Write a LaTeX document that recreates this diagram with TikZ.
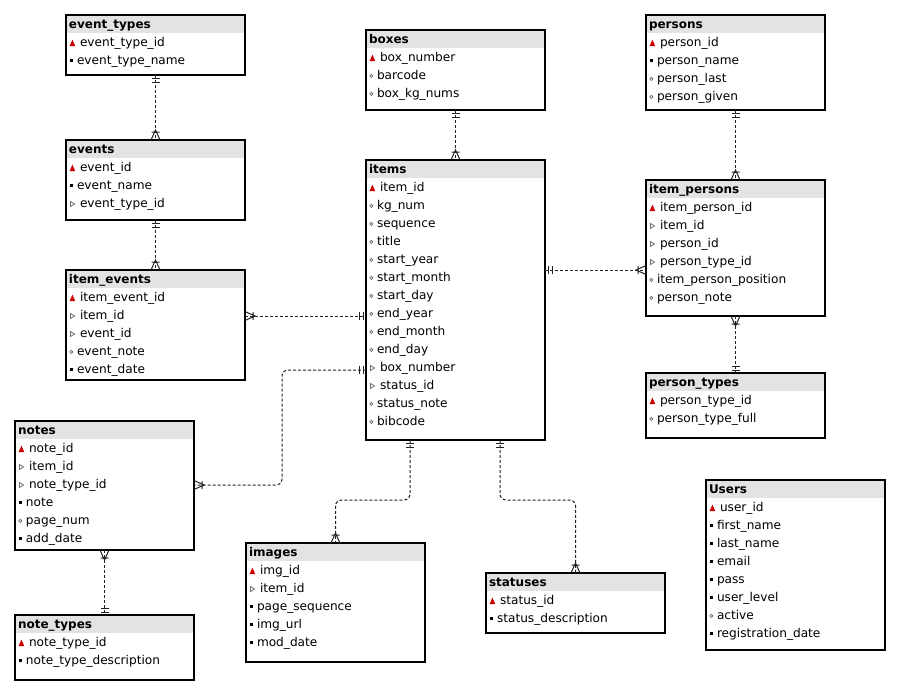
\documentclass[tikz,border=0pt]{standalone}
\usepackage{fontspec}
\setmainfont{DejaVu Sans}
\usetikzlibrary{calc}
\definecolor{hdrgray}{HTML}{E3E3E3}
\definecolor{pkred}{HTML}{CC0000}
\definecolor{mkgray}{HTML}{707070}
\definecolor{lnk}{HTML}{222222}

\tikzset{
  tblbody/.style={inner sep=0pt, outer sep=0pt, anchor=north west, minimum width=179*0.75pt},
  rowtxt/.style={anchor=base west, inner sep=0pt, outer sep=0pt},
  hdrtxt/.style={anchor=base west, inner sep=0pt, outer sep=0pt, font=\fontsize{9}{11}\selectfont\bfseries},
  link/.style={draw=lnk, line width=0.75pt, dash pattern=on 2.25pt off 1.5pt},
  one/.pic={\draw[solid, line width=0.75pt, lnk] (-3,-4) -- (-3,4) (-7,-4) -- (-7,4);},
  many/.pic={\draw[solid, line width=0.75pt, lnk] (0,-4.5) -- (-10,0) -- (0,4.5) (-8,-4) -- (-8,4);},
}

\def\erdoffp{14}\def\erdofff{14}\def\erdoffn{11}\def\erdoffs{11}
\newcommand\erdmkp[2]{\fill[pkred] ({#1+3.5},{#2-0.3}) -- ({#1+9.3},{#2-0.3}) -- ({#1+6.4},{#2-6.8}) -- cycle;}
\newcommand\erdmkf[2]{\draw[mkgray, line width=0.6pt, line join=miter] ({#1+4.5},{#2-6}) -- ({#1+8.5},{#2-3.5}) -- ({#1+4.5},{#2-1}) -- cycle;}
\newcommand\erdmkn[2]{\draw[mkgray, line width=0.55pt] ({#1+5.3},{#2-3.6}) circle[radius=1.6];}
\newcommand\erdmks[2]{\fill ({#1+4},{#2-5.2}) rectangle ({#1+6.9},{#2-2.3});}

% #1 name, #2 left, #3 top, #4 bottom, #5 title, #6 rows
\newcommand\erdtable[6]{%
  \node[tblbody, minimum height={(#4-#3)*0.75pt}] (#1) at (#2,#3) {};
  \fill[hdrgray] (#1.north west) rectangle ($(#1.north east)+(0,18)$);
  \draw[line width=1.1pt] (#1.north west) rectangle (#1.south east);
  \node[hdrtxt] at ({#2+3},{#3+13}) {#5};
  \foreach \t/\txt [count=\k from 0] in {#6} {
    \pgfmathsetmacro\yb{#3+31.5+18*\k}
    \csname erdmk\t\endcsname{#2}{\yb}
    \node[rowtxt] at ({#2+\csname erdoff\t\endcsname},\yb) {\txt};
  }
}

\begin{document}
\begin{tikzpicture}[x=0.75pt, y=-0.75pt, font=\fontsize{9.1}{11}\selectfont]
\fill[white] (0,0) rectangle (901,696);
\useasboundingbox (0,0) rectangle (901,696);

\erdtable{evtypes}{66}{15}{75}{event\_types}{p/event\_type\_id, s/event\_type\_name}
\erdtable{events}{66}{140}{220}{events}{p/event\_id, s/event\_name, f/event\_type\_id}
\erdtable{itemevents}{66}{270}{380}{item\_events}{p/item\_event\_id, f/item\_id, f/event\_id, n/event\_note, s/event\_date}
\erdtable{notes}{15}{421}{550}{notes}{p/note\_id, f/item\_id, f/note\_type\_id, s/note, n/page\_num, s/add\_date}
\erdtable{notetypes}{15}{615}{680}{note\_types}{p/note\_type\_id, s/note\_type\_description}
\erdtable{boxes}{366}{30}{110}{boxes}{p/box\_number, n/barcode, n/box\_kg\_nums}
\erdtable{items}{366}{160}{440}{items}{p/item\_id, n/kg\_num, n/sequence, n/title, n/start\_year, n/start\_month, n/start\_day, n/end\_year, n/end\_month, n/end\_day, f/box\_number, f/status\_id, n/status\_note, n/bibcode}
\erdtable{images}{246}{543}{662}{images}{p/img\_id, f/item\_id, s/page\_sequence, s/img\_url, s/mod\_date}
\erdtable{statuses}{486}{573}{633}{statuses}{p/status\_id, s/status\_description}
\erdtable{persons}{646}{15}{110}{persons}{p/person\_id, s/person\_name, n/person\_last, n/person\_given}
\erdtable{itempersons}{646}{180}{316}{item\_persons}{p/item\_person\_id, f/item\_id, f/person\_id, f/person\_type\_id, n/item\_person\_position, n/person\_note}
\erdtable{persontypes}{646}{373}{438}{person\_types}{p/person\_type\_id, n/person\_type\_full}
\erdtable{users}{706}{480}{650}{Users}{p/user\_id, s/first\_name, s/last\_name, s/email, s/pass, s/user\_level, n/active, s/registration\_date}

% event_types -> events
\draw[link] (evtypes.south) -- (events.north);
\pic[rotate=90] at (evtypes.south) {one};
\pic[rotate=-90] at (events.north) {many};
% events -> item_events
\draw[link] (events.south) -- (itemevents.north);
\pic[rotate=90] at (events.south) {one};
\pic[rotate=-90] at (itemevents.north) {many};
% items -> item_events
\coordinate (c3a) at ($(itemevents.north east)+(0,46)$);
\coordinate (c3b) at ($(items.north west)+(0,156)$);
\draw[link] (c3a) -- (c3b);
\pic[rotate=180] at (c3a) {many};
\pic at (c3b) {one};
% boxes -> items
\draw[link] (boxes.south) -- (items.north);
\pic[rotate=90] at (boxes.south) {one};
\pic[rotate=-90] at (items.north) {many};
% persons -> item_persons
\draw[link] (persons.south) -- (itempersons.north);
\pic[rotate=90] at (persons.south) {one};
\pic[rotate=-90] at (itempersons.north) {many};
% person_types -> item_persons
\draw[link] (itempersons.south) -- (persontypes.north);
\pic[rotate=90] at (itempersons.south) {many};
\pic[rotate=-90] at (persontypes.north) {one};
% items -> item_persons
\coordinate (c7a) at ($(items.north east)+(0,110)$);
\coordinate (c7b) at ($(itempersons.north west)+(0,90)$);
\draw[link] (c7a) -- (c7b);
\pic[rotate=180] at (c7a) {one};
\pic at (c7b) {many};
% items -> notes
\coordinate (c8a) at ($(items.north west)+(0,210)$);
\coordinate (c8b) at ($(notes.north east)+(0,64)$);
\draw[link, rounded corners=4.5pt] (c8a) -- ++(-84,0) |- (c8b);
\pic at (c8a) {one};
\pic[rotate=180] at (c8b) {many};
% note_types -> notes
\draw[link] (notes.south) -- (notetypes.north);
\pic[rotate=90] at (notes.south) {many};
\pic[rotate=-90] at (notetypes.north) {one};
% items -> images
\coordinate (c10a) at ($(items.south west)+(44,0)$);
\draw[link, rounded corners=4.5pt] (c10a) -- ++(0,60) -| (images.north);
\pic[rotate=90] at (c10a) {one};
\pic[rotate=-90] at (images.north) {many};
% items -> statuses
\coordinate (c11a) at ($(items.south west)+(134,0)$);
\draw[link, rounded corners=4.5pt] (c11a) -- ++(0,60) -| (statuses.north);
\pic[rotate=90] at (c11a) {one};
\pic[rotate=-90] at (statuses.north) {many};
\end{tikzpicture}
\end{document}
